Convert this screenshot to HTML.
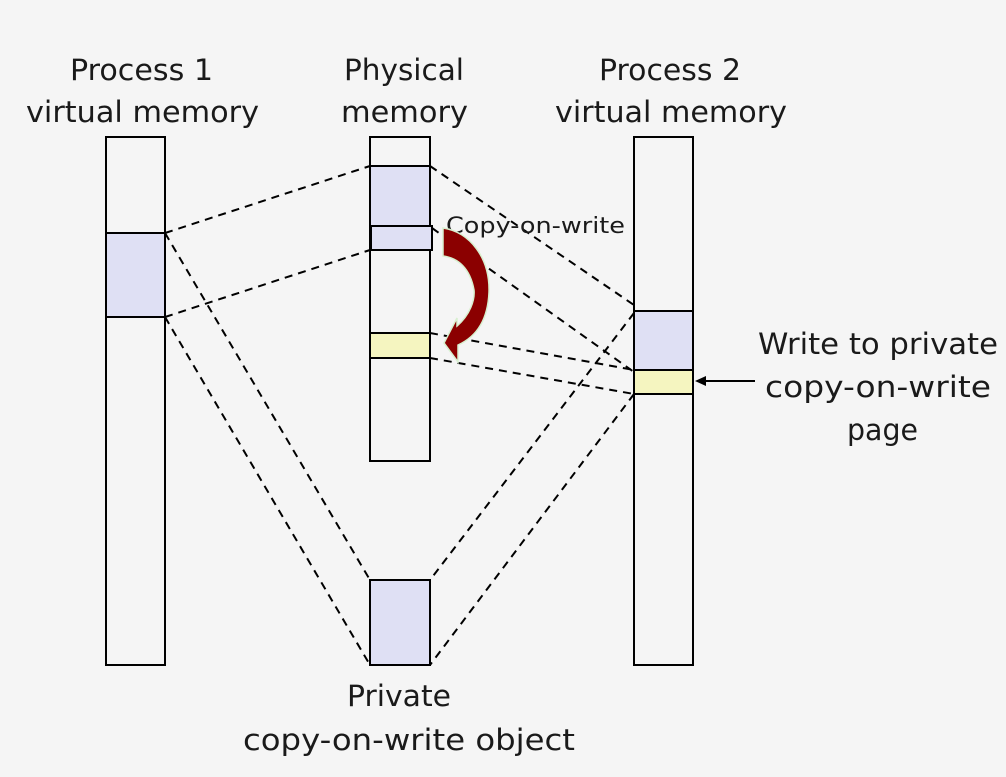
<!DOCTYPE html>
<html><head><meta charset="utf-8"><style>
html,body{margin:0;padding:0;background:#f5f5f5;}
svg{display:block;}
text{font-family:"DejaVu Sans","Liberation Sans",sans-serif;fill:#1a1a1a;}
</style></head><body>
<svg width="1006" height="777" viewBox="0 0 1006 777" xmlns="http://www.w3.org/2000/svg">
<rect width="1006" height="777" fill="#f5f5f5"/>
<g font-size="29" lengthAdjust="spacingAndGlyphs">
<text x="70" y="80" textLength="143" lengthAdjust="spacingAndGlyphs">Process 1</text>
<text x="26" y="122" textLength="233" lengthAdjust="spacingAndGlyphs">virtual memory</text>
<text x="344" y="80" textLength="120" lengthAdjust="spacingAndGlyphs">Physical</text>
<text x="341" y="122" textLength="127" lengthAdjust="spacingAndGlyphs">memory</text>
<text x="599" y="80" textLength="142" lengthAdjust="spacingAndGlyphs">Process 2</text>
<text x="555" y="122" textLength="232" lengthAdjust="spacingAndGlyphs">virtual memory</text>
<text x="758" y="354" textLength="240" lengthAdjust="spacingAndGlyphs">Write to private</text>
<text x="765" y="397" textLength="226" lengthAdjust="spacingAndGlyphs">copy-on-write</text>
<text x="847" y="440" textLength="71" lengthAdjust="spacingAndGlyphs">page</text>
<text x="347" y="706" textLength="104" lengthAdjust="spacingAndGlyphs">Private</text>
<text x="243" y="750" textLength="332" lengthAdjust="spacingAndGlyphs">copy-on-write object</text>
</g>
<g stroke="#000" stroke-width="2">
<rect x="106" y="137" width="59" height="528" fill="none"/>
<rect x="106" y="233" width="59" height="84" fill="#dfe0f4"/>
<rect x="370" y="137" width="60" height="324" fill="none"/>
<rect x="370" y="166" width="60" height="60" fill="#dfe0f4"/>
<rect x="371" y="226" width="61" height="24" fill="#dfe0f4"/>
<rect x="370" y="333" width="60" height="25" fill="#f5f5c0"/>
<rect x="634" y="137" width="59" height="528" fill="none"/>
<rect x="634" y="311" width="59" height="59" fill="#dfe0f4"/>
<rect x="634" y="370" width="59" height="24" fill="#f5f5c0"/>
<rect x="370" y="580" width="60" height="85" fill="#dfe0f4"/>
</g>
<g stroke="#000" stroke-width="2" stroke-dasharray="8,6" fill="none">
<line x1="165" y1="233" x2="370" y2="166"/>
<line x1="165" y1="317" x2="370" y2="250"/>
<line x1="165" y1="233" x2="370" y2="580"/>
<line x1="165" y1="317" x2="370" y2="665"/>
<line x1="430" y1="166" x2="634" y2="305"/>
<line x1="432" y1="228" x2="634" y2="372"/>
<line x1="430" y1="333" x2="634" y2="370"/>
<line x1="430" y1="358" x2="634" y2="394"/>
<line x1="634" y1="313" x2="430" y2="580"/>
<line x1="634" y1="394" x2="430" y2="665"/>
</g>
<text x="446" y="233" font-size="22" textLength="179" lengthAdjust="spacingAndGlyphs">Copy-on-write</text>
<path d="M443 228 C470 232 490 258 489 292 C488 318 478 336 458 345 L458 362 L444 343 L457 318 L457 326 C470 315 475 300 474 290 C470 268 458 258 443 256 Z" fill="#8b0000" stroke="#d8f0d0" stroke-width="1.5"/>
<line x1="755" y1="381" x2="703" y2="381" stroke="#000" stroke-width="2"/>
<polygon points="695,381 706,376 706,386" fill="#000"/>
</svg>
</body></html>
